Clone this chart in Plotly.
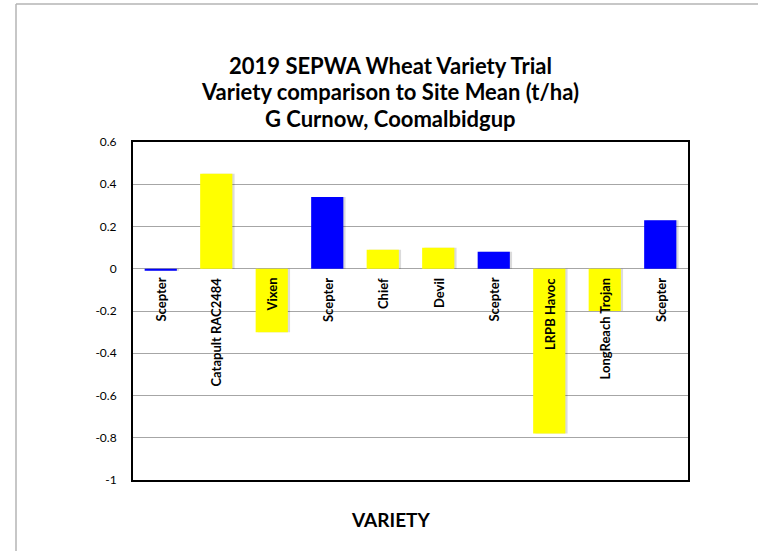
import plotly.graph_objects as go

varieties = ["Scepter", "Catapult RAC2484", "Vixen", "Scepter", "Chief", "Devil",
             "Scepter", "LRPB Havoc", "LongReach Trojan", "Scepter"]
values = [-0.01, 0.45, -0.30, 0.34, 0.09, 0.10, 0.08, -0.78, -0.20, 0.23]
y_ticks = [0.6, 0.4, 0.2, 0, -0.2, -0.4, -0.6, -0.8, -1]
y_tick_labels = ["0.6", "0.4", "0.2", "0", "-0.2", "-0.4", "-0.6", "-0.8", "-1"]
title_lines = ["2019 SEPWA Wheat Variety Trial",
               "Variety comparison to Site Mean (t/ha)",
               "G Curnow, Coomalbidgup"]

colors = ["#0000FF" if v == "Scepter" else "#FFFF00" for v in varieties]
xpos = list(range(len(varieties)))

W, H = 758, 551
L, R, T, B = 133, 70, 142, 71
pw, ph = W - L - R, H - T - B

fig = go.Figure()
# subtle shadow
fig.add_trace(go.Bar(x=xpos, y=values, width=0.58, offset=-0.29 + 0.04,
                     marker=dict(color="rgba(0,0,0,0.14)", line=dict(width=0)),
                     hoverinfo="skip", showlegend=False))
fig.add_trace(go.Bar(x=xpos, y=values, width=0.58,
                     marker=dict(color=colors, line=dict(width=0)),
                     showlegend=False))

font_family = "Lato, 'Open Sans', sans-serif"

for i, name in enumerate(varieties):
    fig.add_annotation(x=i, y=0, xref="x", yref="y", text="<b>%s</b>" % name,
                       textangle=-90, xanchor="center", yanchor="top", yshift=-7,
                       showarrow=False, font=dict(family=font_family, size=13, color="black"))

title_y = [66, 92, 118]
for line, yy in zip(title_lines, title_y):
    fig.add_annotation(x=(390 - L) / pw, y=(H - B - yy) / ph, xref="paper", yref="paper",
                       text="<b>%s</b>" % line, showarrow=False, xanchor="center", yanchor="middle",
                       font=dict(family=font_family, size=22, color="black"))

fig.add_annotation(x=(390 - L) / pw, y=(H - B - 519) / ph, xref="paper", yref="paper",
                   text="<b>VARIETY</b>", showarrow=False, xanchor="center", yanchor="middle",
                   font=dict(family=font_family, size=19, color="black"))

# outer chart border (left and top)
fig.add_shape(type="line", xref="paper", yref="paper",
              x0=(16 - L) / pw, x1=(16 - L) / pw, y0=(H - B - 4) / ph, y1=(H - B - 552) / ph,
              line=dict(color="#b4b4b4", width=1.5))
fig.add_shape(type="line", xref="paper", yref="paper",
              x0=(16 - L) / pw, x1=(760 - L) / pw, y0=(H - B - 4) / ph, y1=(H - B - 4) / ph,
              line=dict(color="#b4b4b4", width=1.5))

fig.update_layout(
    width=W, height=H,
    margin=dict(l=L, r=R, t=T, b=B, pad=0),
    paper_bgcolor="white", plot_bgcolor="white",
    barmode="overlay", bargap=0.42,
    font=dict(family=font_family, size=12, color="black"),
)
fig.update_xaxes(range=[-0.5, len(varieties) - 0.5], showticklabels=False, ticks="",
                 showgrid=False, zeroline=False, showline=True, linecolor="black",
                 linewidth=2, mirror=True)
fig.update_yaxes(range=[-1, 0.6], tickvals=y_ticks, ticktext=y_tick_labels,
                 showgrid=True, gridcolor="#a6a6a6", gridwidth=1,
                 zeroline=True, zerolinecolor="#a6a6a6", zerolinewidth=1,
                 showline=True, linecolor="black", linewidth=2, mirror=True,
                 ticks="", ticklabelstandoff=12, tickfont=dict(size=12))

fig.write_html("out.html", config={"displayModeBar": False},
               post_script="document.body.style.margin='0';document.body.style.overflow='hidden';")
